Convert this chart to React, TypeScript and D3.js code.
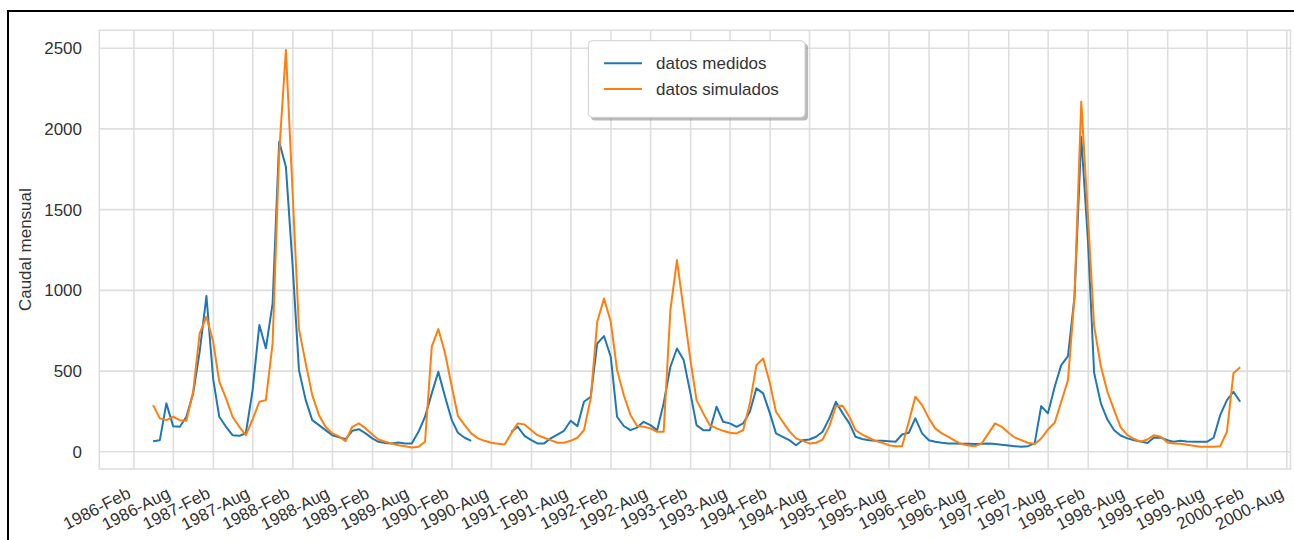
import * as d3 from "d3";

// Monthly series, first value = 1986-Apr, last = 1999-Dec (one row per year)
const START_MONTH = new Date(1986, 3, 1);

const MEDIDOS: (number | null)[] = [
  66, 72, 300, 159, 155, 217, 362, 620, 965,
  450, 217, 155, 103, 99, 115, 380, 785, 641, 920, 1921, 1766,
  1150, 506, 320, 196, 165, 134, 103, 90, 78, 130, 140, 114,
  83, 62, 54, 52, 58, 52, 52, 124, 217, 362, 496, 341,
  196, 118, 87, 68, null, null, null, null, null, 124, 155, 99,
  72, 52, 52, 83, 107, 130, 192, 159, 310, 341, 671, 717,
  589, 217, 160, 134, 150, 186, 165, 134, 300, 527, 640, 568,
  362, 165, 134, 134, 279, 186, 176, 155, 176, 248, 393, 362,
  238, 114, 93, 72, 41, 72, 76, 93, 124, 207, 310, 238,
  176, 93, 79, 72, 68, 68, 66, 62, 107, 118, 207, 114,
  72, 62, 56, 52, 52, 50, 50, 48, 50, 52, 48, 43,
  39, 35, 31, 35, 52, 283, 238, 403, 537, 593, 960, 1950,
  1300, 490, 300, 200, 134, 101, 83, 72, 64, 55, 89, 87,
  72, 62, 68, 64, 62, 62, 62, 87, 227, 320, 372, 310,
];

const SIMULADOS: number[] = [
  289, 207, 196, 217, 196, 192, 372, 734, 837,
  682, 434, 331, 217, 155, 103, 200, 310, 320, 672, 1850, 2489,
  1600, 760, 548, 351, 227, 155, 114, 95, 66, 155, 176, 145,
  107, 76, 62, 52, 41, 35, 27, 31, 62, 651, 760, 610,
  403, 223, 165, 114, 83, 68, 56, 50, 45, 114, 176, 169,
  134, 103, 87, 72, 56, 56, 68, 87, 134, 331, 806, 950,
  806, 506, 350, 230, 160, 155, 145, 124, 124, 878, 1188, 878,
  568, 320, 238, 165, 145, 130, 118, 114, 134, 300, 537, 578,
  424, 248, 186, 128, 83, 68, 52, 56, 76, 159, 283, 285,
  217, 134, 107, 87, 68, 56, 41, 35, 35, 186, 341, 289,
  207, 145, 114, 93, 68, 48, 39, 35, 52, 114, 176, 155,
  118, 89, 72, 56, 48, 83, 138, 180, 310, 444, 960, 2169,
  1450, 780, 530, 372, 258, 151, 103, 79, 62, 76, 103, 93,
  58, 52, 50, 43, 37, 31, 31, 31, 35, 124, 486, 523,
];

const SERIES = [
  { name: "datos medidos", color: "#1f77b4", values: MEDIDOS },
  { name: "datos simulados", color: "#ff7f0e", values: SIMULADOS },
];

const Y_TICKS = [0, 500, 1000, 1500, 2000, 2500];
const X_TICK_START = new Date(1986, 1, 1);
const X_TICK_END = new Date(2000, 7, 2);
const Y_LABEL = "Caudal mensual";

const W = 1294;
const H = 540;
const PLOT = { left: 99.3, right: 1290.5, top: 30.3, bottom: 469 };
const FONT = "'Liberation Sans', Arial, sans-serif";
const TEXT = "#333";
const GRID = "#dedede";

// month-end date for the i-th value
const monthEnd = (i: number) =>
  new Date(START_MONTH.getFullYear(), START_MONTH.getMonth() + i + 1, 0);

export default function App() {
  const x = d3
    .scaleTime()
    .domain([new Date(1985, 7, 26), new Date(2000, 7, 18)])
    .range([PLOT.left, PLOT.right]);
  const y = d3.scaleLinear().domain([0, 2500]).range([451.8, 48.2]);

  const xTicks = d3.timeMonths(X_TICK_START, X_TICK_END, 6);
  const fmt = d3.timeFormat("%Y-%b");

  const line = d3
    .line<number | null>()
    .defined((d) => d != null)
    .x((_, i) => x(monthEnd(i)))
    .y((d) => y(d as number));

  return (
    <svg
      width={W}
      height={H}
      style={{ position: "absolute", left: 0, top: 0, background: "#fff" }}
      fontFamily={FONT}
    >
      {/* figure frame (only left and top visible) */}
      <line x1={8} x2={8} y1={10} y2={H} stroke="#000" strokeWidth={2} />
      <line x1={7} x2={W} y1={11} y2={11} stroke="#000" strokeWidth={2} />

      {/* grid */}
      {Y_TICKS.map((t) => (
        <line key={"gy" + t} x1={PLOT.left} x2={PLOT.right} y1={y(t)} y2={y(t)} stroke={GRID} strokeWidth={1.6} />
      ))}
      {xTicks.map((t) => (
        <line key={"gx" + +t} x1={x(t)} x2={x(t)} y1={PLOT.top} y2={PLOT.bottom} stroke={GRID} strokeWidth={1.6} />
      ))}
      <rect
        x={PLOT.left}
        y={PLOT.top}
        width={PLOT.right - PLOT.left}
        height={PLOT.bottom - PLOT.top}
        fill="none"
        stroke={GRID}
        strokeWidth={1.6}
      />

      {/* series */}
      {SERIES.map((s) => (
        <path
          key={s.name}
          d={line(s.values) || undefined}
          fill="none"
          stroke={s.color}
          strokeWidth={2}
          strokeLinejoin="round"
        />
      ))}

      {/* y axis */}
      {Y_TICKS.map((t) => (
        <text key={"ty" + t} x={82} y={y(t)} dy="0.36em" textAnchor="end" fontSize={17} fill={TEXT}>
          {t}
        </text>
      ))}
      <text
        transform={`translate(31,${(PLOT.top + PLOT.bottom) / 2}) rotate(-90)`}
        textAnchor="middle"
        fontSize={17}
        fill={TEXT}
      >
        {Y_LABEL}
      </text>

      {/* x axis labels */}
      {xTicks.map((t) => (
        <text
          key={"tx" + +t}
          transform={`translate(${x(t) - 2},497) rotate(-27)`}
          textAnchor="end"
          fontSize={17}
          fill={TEXT}
        >
          {fmt(t)}
        </text>
      ))}

      {/* legend */}
      <g>
        <rect x={591} y={43.5} width={217} height={77} rx={4} fill="#8c8c8c" opacity={0.6} />
        <rect x={588.3} y={40.7} width={216.7} height={76.6} rx={4} fill="#fff" stroke="#d0d0d0" strokeWidth={1} />
        {SERIES.map((s, i) => (
          <g key={"lg" + s.name} transform={`translate(0,${63.3 + i * 25.7})`}>
            <line x1={604} x2={642} y1={0} y2={0} stroke={s.color} strokeWidth={2} />
            <text x={656} y={0} dy="0.36em" fontSize={17} fill={TEXT}>
              {s.name}
            </text>
          </g>
        ))}
      </g>
    </svg>
  );
}
